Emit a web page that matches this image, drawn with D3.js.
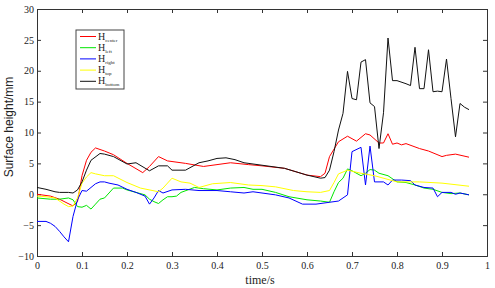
<!DOCTYPE html>
<html>
<head>
<meta charset="utf-8">
<script src="https://cdn.jsdelivr.net/npm/d3@7"></script>
<style>
  body { margin: 0; background: #fff; }
  .axis path, .axis line { stroke: #333; }
</style>
</head>
<body>
<svg id="chart"></svg>
<script>
// series as [time (s), height (mm)] pairs
const hCenter = [[0,0],[0.03,-0.3],[0.05,-0.8],[0.08,-1.9],[0.09,-1.2],[0.1,3.0],[0.11,5.5],[0.12,6.8],[0.13,7.5],[0.15,7.0],[0.17,6.4],[0.2,5.0],[0.235,3.5],[0.25,4.5],[0.27,6.1],[0.29,5.4],[0.3,5.3],[0.33,5.0],[0.37,4.5],[0.4,4.8],[0.43,5.1],[0.47,4.8],[0.5,4.6],[0.55,4.2],[0.6,3.1],[0.63,2.85],[0.64,3.4],[0.65,6.1],[0.67,8.5],[0.69,9.4],[0.71,8.6],[0.73,9.8],[0.74,9.6],[0.76,8.3],[0.77,8.3],[0.78,9.8],[0.79,8.1],[0.8,8.3],[0.81,8.0],[0.82,8.2],[0.85,7.4],[0.87,7.0],[0.9,6.1],[0.91,6.3],[0.93,6.5],[0.96,6.0]];
const hLeft = [[0,-0.6],[0.03,-0.8],[0.05,-0.8],[0.07,-0.6],[0.08,-0.9],[0.09,-2.0],[0.1,-2.1],[0.11,-1.8],[0.12,-2.4],[0.13,-1.6],[0.14,-0.8],[0.15,-0.6],[0.17,1.0],[0.19,1.0],[0.2,0.7],[0.22,0.3],[0.24,-0.1],[0.25,-0.8],[0.26,-1.2],[0.27,-1.5],[0.28,-0.9],[0.29,-0.4],[0.3,-0.4],[0.31,-0.3],[0.32,0.3],[0.35,1.1],[0.37,0.9],[0.4,0.7],[0.43,1.0],[0.46,1.1],[0.48,0.8],[0.5,0.8],[0.53,0.3],[0.56,-0.4],[0.6,-0.9],[0.63,-1.1],[0.65,-1.3],[0.66,0.4],[0.67,1.9],[0.68,2.6],[0.69,4.1],[0.7,3.8],[0.72,3.0],[0.73,3.4],[0.74,4.0],[0.75,3.9],[0.76,3.4],[0.78,3.0],[0.8,2.0],[0.82,1.9],[0.84,1.5],[0.86,1.0],[0.88,0.8],[0.9,0.3],[0.92,0.1],[0.94,0.2],[0.96,-0.1]];
const hRight = [[0,-4.4],[0.02,-4.4],[0.03,-4.7],[0.04,-5.2],[0.05,-6.0],[0.06,-6.9],[0.07,-7.7],[0.08,-3.6],[0.09,-0.9],[0.1,0.6],[0.11,0.5],[0.12,1.1],[0.13,1.7],[0.14,2.0],[0.15,2.0],[0.16,1.8],[0.18,1.5],[0.2,0.8],[0.22,0.3],[0.24,-0.3],[0.25,-1.6],[0.26,-0.6],[0.27,0.6],[0.28,0.2],[0.3,0.7],[0.33,0.8],[0.36,0.6],[0.4,0.6],[0.43,0.4],[0.46,0.2],[0.48,0.4],[0.5,0.2],[0.53,-0.1],[0.56,-0.6],[0.59,-1.6],[0.62,-1.6],[0.65,-1.3],[0.67,-1.1],[0.69,-0.1],[0.7,6.9],[0.72,7.6],[0.73,1.5],[0.74,7.8],[0.75,2.0],[0.77,2.0],[0.78,1.5],[0.79,2.3],[0.81,2.3],[0.83,2.2],[0.84,1.5],[0.86,1.1],[0.88,1.0],[0.89,-0.4],[0.9,0.3],[0.92,0.3],[0.93,0.0],[0.94,0.2],[0.96,-0.1]];
const hTop = [[0,-0.3],[0.02,-0.4],[0.04,-0.6],[0.06,-1.6],[0.07,-2.0],[0.08,-1.9],[0.09,-0.6],[0.1,1.8],[0.11,2.8],[0.12,3.5],[0.13,3.3],[0.15,3.0],[0.17,3.0],[0.2,1.9],[0.23,1.0],[0.27,0.4],[0.28,1.0],[0.3,2.6],[0.32,2.0],[0.34,1.8],[0.36,1.1],[0.39,1.7],[0.43,1.9],[0.47,1.5],[0.5,1.4],[0.53,1.2],[0.57,0.6],[0.6,0.4],[0.63,0.3],[0.65,0.6],[0.66,1.9],[0.67,3.3],[0.69,3.9],[0.72,3.4],[0.75,3.0],[0.8,2.0],[0.85,2.0],[0.9,1.8],[0.96,1.3]];
const hBottom = [[0,1.1],[0.02,0.8],[0.04,0.4],[0.05,0.3],[0.07,0.3],[0.08,0.2],[0.09,0.7],[0.1,2.0],[0.11,3.9],[0.12,5.5],[0.14,6.6],[0.15,6.5],[0.17,6.1],[0.2,4.9],[0.22,5.1],[0.25,3.8],[0.27,4.6],[0.29,4.6],[0.3,3.9],[0.33,3.9],[0.36,5.1],[0.38,5.4],[0.4,5.8],[0.42,5.9],[0.44,5.6],[0.46,5.1],[0.48,4.9],[0.5,4.7],[0.55,4.2],[0.6,3.1],[0.63,2.6],[0.64,2.7],[0.65,3.9],[0.66,6.9],[0.67,10.4],[0.68,13.1],[0.69,19.9],[0.7,15.5],[0.71,15.3],[0.72,21.4],[0.73,21.8],[0.74,14.8],[0.75,14.2],[0.76,7.4],[0.77,13.2],[0.78,25.3],[0.79,18.4],[0.8,18.4],[0.82,17.9],[0.83,17.6],[0.84,23.8],[0.85,17.1],[0.86,17.1],[0.87,23.4],[0.88,16.6],[0.89,16.7],[0.9,16.6],[0.91,21.9],[0.92,15.5],[0.93,9.3],[0.94,14.7],[0.95,14.1],[0.96,13.7]];

const seriesNames = ["center", "left", "right", "top", "bottom"];
const seriesColors = ["#ff0000", "#00e600", "#0000ff", "#ffff00", "#111111"];
const seriesData = [hCenter, hLeft, hRight, hTop, hBottom];

const xTicks = d3.range(0, 1.01, 0.1);
const yTicks = d3.range(-10, 31, 5);

const SERIF = '"Liberation Serif", "Times New Roman", serif';
const SANS = '"Liberation Sans", Arial, sans-serif';

const W = 495, H = 288;
const margin = { top: 9, right: 8, bottom: 32, left: 37 };
const width = W - margin.left - margin.right;
const height = H - margin.top - margin.bottom;

const svg = d3.select('#chart').attr('width', W).attr('height', H);
const g = svg.append('g').attr('transform', `translate(${margin.left},${margin.top})`);

const x = d3.scaleLinear().domain([0, 1]).range([0, width]);
const y = d3.scaleLinear().domain([-10, 30]).range([height, 0]);

const fmtX = d => (Math.round(d * 10) / 10).toString();

// axes: ticks point inwards, on all four sides (box)
const xAxisG = g.append('g').attr('class', 'axis')
  .attr('transform', `translate(0,${height})`)
  .call(d3.axisBottom(x).tickValues(xTicks).tickSize(-4).tickPadding(6).tickFormat(fmtX));
g.append('g').attr('class', 'axis')
  .call(d3.axisTop(x).tickValues(xTicks).tickSize(-4).tickFormat(''));
const yAxisG = g.append('g').attr('class', 'axis')
  .call(d3.axisLeft(y).tickValues(yTicks).tickSize(-4).tickPadding(3));
g.append('g').attr('class', 'axis')
  .attr('transform', `translate(${width},0)`)
  .call(d3.axisRight(y).tickValues(yTicks).tickSize(-4).tickFormat(''));

[xAxisG, yAxisG].forEach(a => a.selectAll('text')
  .style('font-family', SERIF).style('font-size', '10px').attr('fill', '#222'));

// lines
const line = d3.line().x(d => x(d[0])).y(d => y(d[1]));
seriesData.forEach((s, i) => {
  g.append('path')
    .datum(s)
    .attr('fill', 'none')
    .attr('stroke', seriesColors[i])
    .attr('stroke-width', 1)
    .attr('d', line);
});

// axis labels
svg.append('text')
  .attr('x', margin.left + width / 2 - 2).attr('y', 284)
  .attr('text-anchor', 'middle').style('font-size', '12px').attr('fill', '#222')
  .style('font-family', SERIF)
  .text('time/s');
svg.append('text')
  .attr('transform', `translate(13,127) rotate(-90)`)
  .attr('text-anchor', 'middle').style('font-size', '12px').attr('fill', '#222')
  .style('font-family', SANS)
  .text('Surface height/mm');

// legend
const leg = svg.append('g').attr('transform', 'translate(76,30)');
leg.append('rect').attr('width', 48).attr('height', 59)
  .attr('fill', '#fff').attr('stroke', '#444').attr('stroke-width', 1);
seriesNames.forEach((n, i) => {
  const yy = 6.5 + i * 11.2;
  leg.append('line').attr('x1', 4).attr('x2', 20).attr('y1', yy).attr('y2', yy)
    .attr('stroke', seriesColors[i]).attr('stroke-width', 1);
  const t = leg.append('text').attr('x', 22).attr('y', yy + 3)
    .style('font-family', SERIF).style('font-size', '10px').attr('fill', '#222');
  t.append('tspan').text('H');
  t.append('tspan').style('font-size', '5px').attr('dy', 2).text(n);
});
</script>
</body>
</html>
